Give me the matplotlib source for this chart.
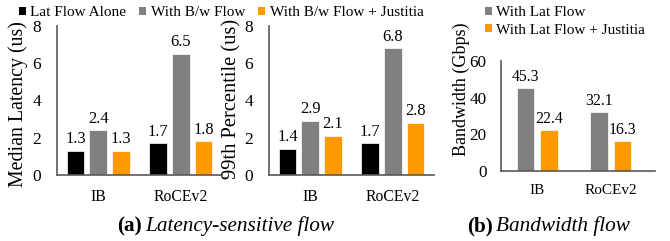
import matplotlib
matplotlib.use("Agg")
import matplotlib.pyplot as plt
import numpy as np
from matplotlib.patches import Patch

plt.rcParams['font.family'] = ['Liberation Serif', 'DejaVu Serif']

categories = ["IB", "RoCEv2"]
series_a = ["Lat Flow Alone", "With B/w Flow", "With B/w Flow + Justitia"]
median_latency = [[1.3, 1.7], [2.4, 6.5], [1.3, 1.8]]
p99_latency = [[1.4, 1.7], [2.9, 6.8], [2.1, 2.8]]
series_b = ["With Lat Flow", "With Lat Flow + Justitia"]
bandwidth = [[45.3, 32.1], [22.4, 16.3]]
colors_a = ["#000000", "#808080", "#FF9900"]
colors_b = ["#808080", "#FF9900"]

W, H = 670, 241
fig = plt.figure(figsize=(W / 100, H / 100), dpi=100)

def ax_px(x0, y0, x1, y1):
    return fig.add_axes([x0 / W, 1 - y1 / H, (x1 - x0) / W, (y1 - y0) / H])

spine_col = "#595959"

def style(ax, yfs, xfs, ypad, xpad):
    for s in ["top", "right"]:
        ax.spines[s].set_visible(False)
    for s in ["left", "bottom"]:
        ax.spines[s].set_color(spine_col)
        ax.spines[s].set_linewidth(1.2)
    ax.tick_params(length=0)
    ax.tick_params(axis="y", pad=ypad, labelsize=yfs)
    ax.tick_params(axis="x", pad=xpad, labelsize=xfs)

def draw_a(ax, data, ylabel, lx, ly, lfs_):
    x = np.arange(len(categories))
    w = 0.215
    offs = [-0.275, 0, 0.275]
    for i, vals in enumerate(data):
        bars = ax.bar(x + offs[i], vals, w, color=colors_a[i], edgecolor="white", linewidth=0.5)
        for b, v in zip(bars, vals):
            ax.text(b.get_x() + b.get_width() / 2, v + 0.2, f"{v:.1f}", ha="center", va="bottom", fontsize=11.8)
    ax.set_xlim(-0.5, 1.5)
    ax.set_ylim(0, 8)
    ax.set_yticks([0, 2, 4, 6, 8])
    ax.set_xticks(x)
    ax.set_xticklabels(categories)
    ax.set_ylabel(ylabel, fontsize=lfs_)
    ax.yaxis.set_label_coords(lx, ly)
    style(ax, 12.5, 11.3, 11.5, 10)

ax1 = ax_px(57, 26, 222, 175)
draw_a(ax1, median_latency, "Median Latency (us)", -0.176, 0.477, 14.3)
ax2 = ax_px(269, 26, 434, 175)
draw_a(ax2, p99_latency, "99th Percentile (us)", -0.164, 0.51, 14.8)

ax3 = ax_px(501, 61, 655, 171)
x = np.arange(len(categories))
w = 0.235
offs = [-0.16, 0.16]
for i, vals in enumerate(bandwidth):
    bars = ax3.bar(x + offs[i], vals, w, color=colors_b[i], edgecolor="white", linewidth=0.5)
    for b, v in zip(bars, vals):
        ax3.text(b.get_x() + b.get_width() / 2, v + 1.8, f"{v:.1f}", ha="center", va="bottom", fontsize=11.3)
ax3.set_xlim(-0.49, 1.6)
ax3.set_ylim(0, 60)
ax3.set_yticks([0, 20, 40, 60])
ax3.set_xticks(x)
ax3.set_xticklabels(categories)
ax3.set_ylabel("Bandwidth (Gbps)", fontsize=13)
ax3.yaxis.set_label_coords(-0.2, 0.74)
style(ax3, 12.3, 11, 10.5, 9)

lfs = 11
handles_a = [Patch(facecolor=c, edgecolor="none") for c in colors_a]
fig.legend(handles_a, series_a, loc="center left", bbox_to_anchor=(19 / W, 1 - 13 / H),
           ncol=3, frameon=False, fontsize=lfs, handlelength=0.45, handleheight=0.45,
           handletextpad=0.3, columnspacing=0.85, borderpad=0, borderaxespad=0)
handles_b = [Patch(facecolor=c, edgecolor="none") for c in colors_b]
fig.legend(handles_b, series_b, loc="center left", bbox_to_anchor=(485 / W, 1 - 21.5 / H),
           ncol=1, frameon=False, fontsize=lfs, handlelength=0.45, handleheight=0.45,
           handletextpad=0.3, labelspacing=0.3, borderpad=0, borderaxespad=0)

cfs = 15.3
fig.text(142 / W, 1 - 226 / H, "(a)", fontsize=cfs, fontweight="bold", ha="right", va="center")
fig.text(145 / W, 1 - 226 / H, "Latency-sensitive flow", fontsize=cfs, style="italic", ha="left", va="center")
fig.text(493 / W, 1 - 226 / H, "(b)", fontsize=cfs, fontweight="bold", ha="right", va="center")
fig.text(496 / W, 1 - 226 / H, "Bandwidth flow", fontsize=cfs, style="italic", ha="left", va="center")

fig.savefig("out.png", dpi=100)
